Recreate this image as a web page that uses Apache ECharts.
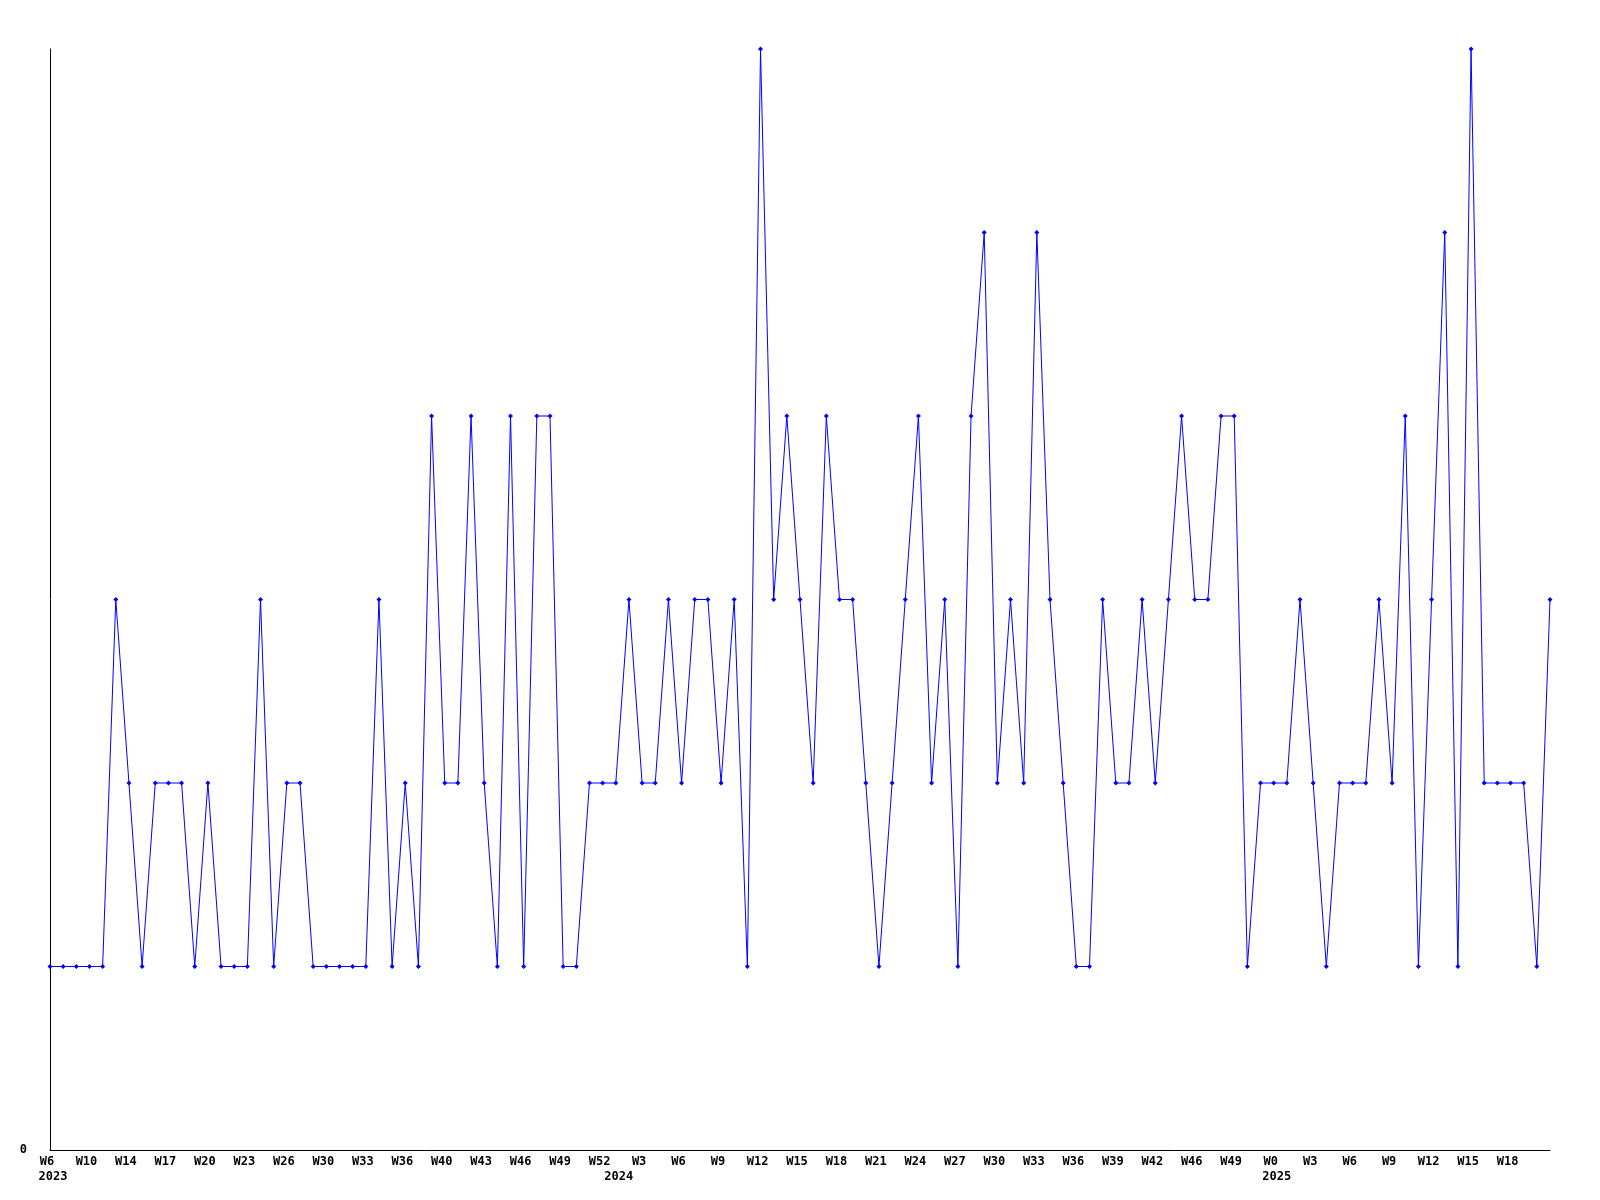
<!DOCTYPE html>
<html>
<head>
<meta charset="utf-8">
<script src="https://cdn.jsdelivr.net/npm/echarts@6/dist/echarts.min.js"></script>
<style>
html,body{margin:0;padding:0;background:#fff;}
#chart{width:1600px;height:1200px;}
</style>
</head>
<body>
<div id="chart"></div>
<script>
// Weekly counts, one value per week (115 weeks)
const values = [
  1,1,1,1,1,3,2,1,2,2,
  2,1,2,1,1,1,3,1,2,2,
  1,1,1,1,1,3,1,2,1,4,
  2,2,4,2,1,4,1,4,4,1,
  1,2,2,2,3,2,2,3,2,3,
  3,2,3,1,6,3,4,3,2,4,
  3,3,2,1,2,3,4,2,3,1,
  4,5,2,3,2,5,3,2,1,1,
  3,2,2,3,2,3,4,3,3,4,
  4,1,2,2,2,3,2,1,2,2,
  2,3,2,4,1,3,5,1,6,2,
  2,2,2,1,3
];
// Week tick labels shown every third week
const weekTicks = ['W6','W10','W14','W17','W20','W23','W26','W30','W33','W36','W40','W43','W46','W49','W52',
  'W3','W6','W9','W12','W15','W18','W21','W24','W27','W30','W33','W36','W39','W42','W46','W49',
  'W0','W3','W6','W9','W12','W15','W18'];
const tickStep = 3;
const yearNames = ['2023','2024','2025'];
const yearStartIndex = [0,43,93];

const categories = values.map((v,i)=>String(i));
const font = {fontFamily:'DejaVu Sans Mono', fontWeight:'bold', fontSize:12, color:'#000'};

const chart = echarts.init(document.getElementById('chart'), null, {renderer:'canvas'});
chart.setOption({
  animation:false,
  backgroundColor:'#fff',
  grid:{left:50,right:50,top:49,bottom:50,containLabel:false},
  xAxis:[{
    type:'category', data:categories, boundaryGap:false,
    axisLine:{show:true,lineStyle:{color:'#000',width:1}},
    axisTick:{show:false},
    splitLine:{show:false},
    axisLabel:Object.assign({
      interval:(i)=>i % tickStep === 0,
      margin:6,
      padding:[0,6,0,0],
      formatter:(v,i)=> weekTicks[i/tickStep] || ''
    }, font)
  },{
    type:'category', data:categories, boundaryGap:false, position:'bottom', offset:15,
    axisLine:{show:false}, axisTick:{show:false}, splitLine:{show:false},
    axisLabel:Object.assign({
      interval:0, margin:6,
      padding:[0,0,0,6],
      formatter:(v,i)=>{const k=yearStartIndex.indexOf(i); return k>=0?yearNames[k]:'';}
    }, font)
  }],
  yAxis:{
    type:'value', min:0, max:6, interval:6,
    axisLine:{show:true,lineStyle:{color:'#000',width:1}},
    axisTick:{show:false},
    splitLine:{show:false},
    axisLabel:Object.assign({margin:23, showMaxLabel:false}, font)
  },
  series:[{
    type:'line', data:values, xAxisIndex:0,
    symbol:'diamond', symbolSize:5, showAllSymbol:true,
    lineStyle:{color:'#0000ff',width:1},
    itemStyle:{color:'#0000ff'}
  }]
});
</script>
</body>
</html>
